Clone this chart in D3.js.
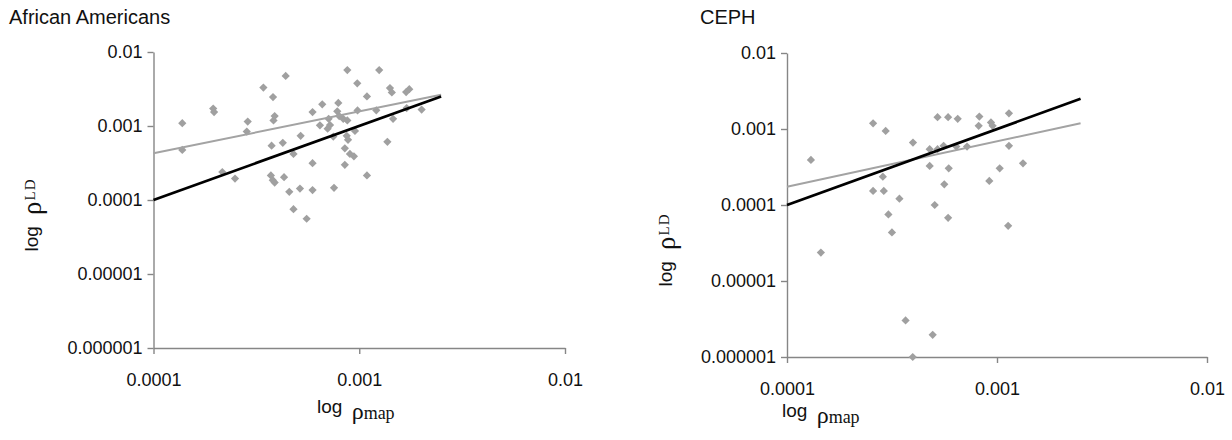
<!DOCTYPE html>
<html><head><meta charset="utf-8">
<script src="https://cdn.jsdelivr.net/npm/d3@7"></script>
<style>body{margin:0;background:#fff}svg{display:block}</style>
</head><body>
<svg id="c" width="1232" height="440"></svg>
<script>
// ---- data ----
const panelTitles = ["African Americans", "CEPH"];
const xTickValues = [1e-4, 1e-3, 1e-2];
const xTickLabels = ["0.0001", "0.001", "0.01"];
const yTickValues = [1e-6, 1e-5, 1e-4, 1e-3, 1e-2];
const yTickLabels = ["0.000001", "0.00001", "0.0001", "0.001", "0.01"];

const leftX = [1.38e-4,1.38e-4,1.95e-4,1.97e-4,2.16e-4,2.49e-4,2.87e-4,2.84e-4,3.42e-4,4.39e-4,3.81e-4,3.88e-4,3.83e-4,3.75e-4,4.25e-4,4.79e-4,3.72e-4,3.80e-4,3.88e-4,4.31e-4,4.57e-4,5.19e-4,5.15e-4,4.79e-4,5.55e-4,5.93e-4,5.93e-4,5.93e-4,6.61e-4,6.44e-4,7.10e-4,7.21e-4,7.02e-4,7.91e-4,7.82e-4,7.99e-4,8.36e-4,7.48e-4,8.75e-4,8.69e-4,8.82e-4,9.53e-4,8.51e-4,9.01e-4,9.42e-4,8.51e-4,7.54e-4,8.75e-4,9.78e-4,9.81e-4,1.09e-3,1.09e-3,1.25e-3,1.21e-3,1.37e-3,1.41e-3,1.44e-3,1.46e-3,1.69e-3,1.75e-3,1.70e-3,2.01e-3];
const leftY = [1.09e-3,4.74e-4,1.72e-3,1.54e-3,2.39e-4,1.95e-4,1.15e-3,8.4e-4,3.31e-3,4.74e-3,2.46e-3,1.36e-3,1.19e-3,5.41e-4,5.93e-4,4.19e-4,2.15e-4,1.85e-4,1.72e-4,2.03e-4,1.29e-4,7.36e-4,1.43e-4,7.5e-5,5.58e-5,1.54e-3,3.15e-4,1.36e-4,1.96e-3,1.02e-3,1.25e-3,1.03e-3,9.2e-4,2.05e-3,1.58e-3,1.36e-3,1.25e-3,7.21e-4,1.19e-3,7.36e-4,6.5e-4,8.58e-4,4.99e-4,4.19e-4,3.9e-4,2.99e-4,1.46e-4,5.7e-3,3.78e-3,1.62e-3,2.51e-3,2.15e-4,5.7e-3,1.63e-3,6.12e-4,3.25e-3,2.84e-3,1.25e-3,2.87e-3,3.15e-3,1.75e-3,1.67e-3];

const rightX = [1.30e-4,1.45e-4,2.57e-4,2.95e-4,2.86e-4,2.57e-4,2.89e-4,3.04e-4,3.16e-4,3.43e-4,3.98e-4,3.67e-4,3.97e-4,4.78e-4,4.78e-4,5.05e-4,4.94e-4,5.21e-4,5.21e-4,5.57e-4,5.61e-4,5.85e-4,5.89e-4,5.85e-4,6.50e-4,6.40e-4,7.20e-4,8.24e-4,8.18e-4,9.36e-4,9.53e-4,9.19e-4,1.03e-3,1.14e-3,1.14e-3,1.13e-3,1.33e-3];
const rightY = [3.92e-4,2.37e-5,1.19e-3,9.44e-4,2.36e-4,1.53e-4,1.53e-4,7.52e-5,4.35e-5,1.21e-4,6.64e-4,3.03e-6,1.0e-6,5.42e-4,3.27e-4,1.0e-4,1.96e-6,1.43e-3,5.42e-4,6.0e-4,1.87e-4,1.43e-3,3.04e-4,6.79e-5,1.36e-3,5.87e-4,5.87e-4,1.46e-3,1.1e-3,1.22e-3,1.1e-3,2.07e-4,3.04e-4,1.61e-3,6.0e-4,5.33e-5,3.54e-4];

// line end points (x) and y values for regression (grey) and identity (black) lines
const lineX = [1e-4, 2.5e-3];
const leftGreyY = [4.28e-4, 2.64e-3];
const leftBlackY = [1e-4, 2.5e-3];
const rightGreyY = [1.74e-4, 1.19e-3];
const rightBlackY = [1e-4, 2.5e-3];

// ---- drawing ----
const svg = d3.select("#c");
const panels = [
  {title: panelTitles[0], titleX: 9, titleY: 24, xs: leftX, ys: leftY, grey: leftGreyY, black: leftBlackY,
   xr: [153.5, 565], yr: [348, 52], ylabX: 38, ylabY: 215, xlabX: 317, xlabY: 413},
  {title: panelTitles[1], titleX: 700, titleY: 24, xs: rightX, ys: rightY, grey: rightGreyY, black: rightBlackY,
   xr: [787, 1207], yr: [357, 53], ylabX: 672, ylabY: 250, xlabX: 782, xlabY: 417}
];

const axisColor = "#868686";
const ptColor = "#a0a0a0";
const sans = "Liberation Sans, Arial, sans-serif";
const serif = "Liberation Serif, Times New Roman, serif";

panels.forEach(p => {
  const x = d3.scaleLog().domain([1e-4, 1e-2]).range(p.xr);
  const y = d3.scaleLog().domain([1e-6, 1e-2]).range(p.yr);
  const g = svg.append("g");

  g.append("text").attr("x", p.titleX).attr("y", p.titleY)
    .attr("font-family", sans).attr("font-size", 20).attr("fill", "#111")
    .text(p.title);

  // axes
  const ax = g.append("g").attr("transform", `translate(0,${p.yr[0]})`)
    .call(d3.axisBottom(x).tickValues(xTickValues).tickFormat((d,i) => xTickLabels[i]).tickSize(6).tickPadding(19).tickSizeOuter(0));
  const ay = g.append("g").attr("transform", `translate(${p.xr[0]},0)`)
    .call(d3.axisLeft(y).tickValues(yTickValues).tickFormat((d,i) => yTickLabels[i]).tickSize(6).tickPadding(5).tickSizeOuter(0));
  [ax, ay].forEach(a => {
    a.select(".domain").attr("stroke", axisColor).attr("stroke-width", 1.4);
    a.selectAll(".tick line").attr("stroke", axisColor).attr("stroke-width", 1.4);
    a.selectAll(".tick text").attr("fill", "#111").attr("font-size", 18).attr("font-family", sans);
  });

  // points
  const sym = d3.symbol().type(d3.symbolSquare).size(34);
  g.append("g").selectAll("path").data(p.xs.map((v, i) => [v, p.ys[i]])).join("path")
    .attr("d", sym)
    .attr("transform", d => `translate(${x(d[0])},${y(d[1])}) rotate(45)`)
    .attr("fill", ptColor);

  // lines
  const ln = d3.line().x(d => x(d[0])).y(d => y(d[1]));
  g.append("path").datum(lineX.map((v, i) => [v, p.grey[i]])).attr("d", ln)
    .attr("stroke", "#a3a3a3").attr("stroke-width", 2).attr("fill", "none");
  g.append("path").datum(lineX.map((v, i) => [v, p.black[i]])).attr("d", ln)
    .attr("stroke", "#000").attr("stroke-width", 2.8).attr("fill", "none");

  // y label
  const yl = g.append("text").attr("transform", `translate(${p.ylabX},${p.ylabY}) rotate(-90)`)
    .attr("text-anchor", "middle").attr("fill", "#111");
  yl.append("tspan").attr("font-family", sans).attr("font-size", 19).text("log ");
  yl.append("tspan").attr("font-family", serif).attr("font-size", 27).attr("dx", 6).attr("dy", 3).text("ρ");
  yl.append("tspan").attr("font-family", serif).attr("font-size", 15).attr("dx", 1).attr("dy", -6).attr("letter-spacing", 1).text("LD");

  // x label
  const xl = g.append("text").attr("x", p.xlabX).attr("y", p.xlabY).attr("fill", "#111");
  xl.append("tspan").attr("font-family", sans).attr("font-size", 19).text("log ");
  xl.append("tspan").attr("font-family", serif).attr("font-size", 24).attr("dx", 4).attr("dy", 6).text("ρ");
  xl.append("tspan").attr("font-family", serif).attr("font-size", 18).text("map");
});
</script>
</body></html>
